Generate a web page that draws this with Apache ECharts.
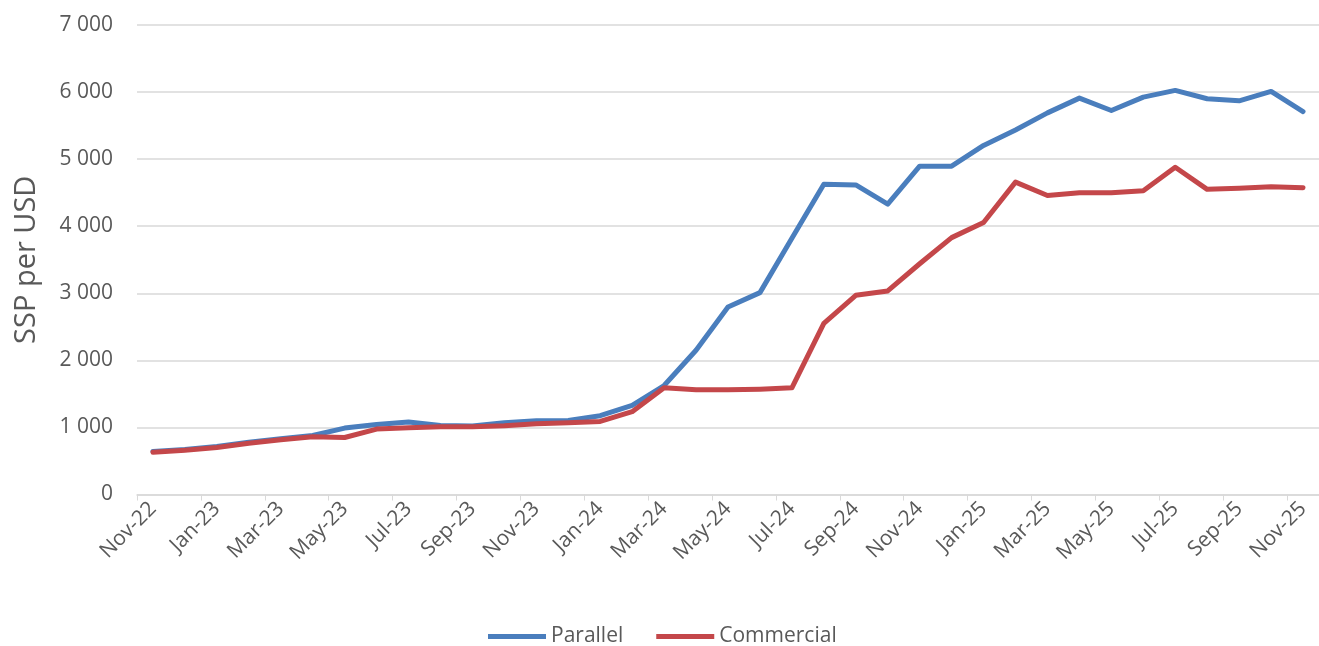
<!DOCTYPE html>
<html>
<head>
<meta charset="utf-8">
<title>SSP per USD: parallel and commercial rates</title>
<script src="https://cdn.jsdelivr.net/npm/echarts@6/dist/echarts.min.js"></script>
<style>
  html, body { margin: 0; padding: 0; background: #ffffff; }
  #chart { width: 1319px; height: 646px; }
</style>
</head>
<body>
<div id="chart"></div>
<script>
// Monthly exchange rates, Nov-22 to Nov-25
const months = [
  'Nov-22', 'Dec-22', 'Jan-23', 'Feb-23', 'Mar-23', 'Apr-23', 'May-23', 'Jun-23',
  'Jul-23', 'Aug-23', 'Sep-23', 'Oct-23', 'Nov-23', 'Dec-23', 'Jan-24', 'Feb-24',
  'Mar-24', 'Apr-24', 'May-24', 'Jun-24', 'Jul-24', 'Aug-24', 'Sep-24', 'Oct-24',
  'Nov-24', 'Dec-24', 'Jan-25', 'Feb-25', 'Mar-25', 'Apr-25', 'May-25', 'Jun-25',
  'Jul-25', 'Aug-25', 'Sep-25', 'Oct-25', 'Nov-25'
];

const parallel = [
  640, 670, 715, 780, 830, 880, 990, 1045, 1080, 1030, 1020, 1070, 1100,
  1105, 1175, 1330, 1625, 2150, 2795, 3010, 3820, 4625, 4615, 4330, 4895,
  4895, 5205, 5435, 5690, 5910, 5725, 5925, 6025, 5900, 5870, 6010, 5710
];

const commercial = [
  630, 660, 700, 765, 815, 860, 850, 975, 995, 1010, 1010, 1025, 1055,
  1070, 1090, 1235, 1590, 1560, 1560, 1570, 1590, 2550, 2970, 3035, 3440,
  3830, 4055, 4657, 4457, 4500, 4500, 4530, 4880, 4550, 4565, 4590, 4575
];

const yTicks = { min: 0, max: 7000, step: 1000 };

const textColor = '#595959';
const gridColor = '#d9d9d9';
const fontFamily = '"Open Sans", "Noto Sans", sans-serif';

// thousands separated by a space, e.g. 7 000
function spaced(v) {
  return String(v).replace(/\B(?=(\d{3})+(?!\d))/g, ' ');
}

const chart = echarts.init(document.getElementById('chart'), null, { renderer: 'canvas' });

chart.setOption({
  backgroundColor: '#ffffff',
  animation: false,
  textStyle: { fontFamily: fontFamily },
  grid: { left: 137, right: -8, top: 25, bottom: 151.5, containLabel: false },
  legend: {
    left: 483,
    top: 621,
    itemWidth: 58,
    itemHeight: 5,
    itemGap: 33,
    icon: 'rect',
    textStyle: { color: textColor, fontSize: 21, fontFamily: fontFamily },
    data: ['Parallel', 'Commercial']
  },
  xAxis: {
    type: 'category',
    data: months,
    boundaryGap: true,
    axisLine: { show: true, lineStyle: { color: gridColor, width: 1.5 } },
    axisTick: { show: true, interval: 1, length: 6, lineStyle: { color: gridColor } },
    axisLabel: {
      interval: 1,
      rotate: 45,
      margin: 11,
      color: textColor,
      fontSize: 21,
      fontFamily: fontFamily
    },
    splitLine: { show: false }
  },
  yAxis: {
    type: 'value',
    min: yTicks.min,
    max: yTicks.max,
    interval: yTicks.step,
    name: 'SSP per USD',
    nameLocation: 'middle',
    nameGap: 96,
    nameTextStyle: { color: textColor, fontSize: 29, fontFamily: fontFamily },
    axisLine: { show: false },
    axisTick: { show: false },
    axisLabel: {
      color: textColor,
      fontSize: 21,
      margin: 24,
      fontFamily: fontFamily,
      formatter: spaced
    },
    splitLine: { show: true, lineStyle: { color: gridColor, width: 1.5 } }
  },
  series: [
    {
      name: 'Parallel',
      type: 'line',
      data: parallel,
      symbol: 'none',
      z: 2,
      itemStyle: { color: '#4a7ebd' },
      lineStyle: { color: '#4a7ebd', width: 5, cap: 'round', join: 'round' }
    },
    {
      name: 'Commercial',
      type: 'line',
      data: commercial,
      symbol: 'none',
      z: 3,
      itemStyle: { color: '#c4474a' },
      lineStyle: { color: '#c4474a', width: 5, cap: 'round', join: 'round' }
    }
  ]
});
</script>
</body>
</html>
